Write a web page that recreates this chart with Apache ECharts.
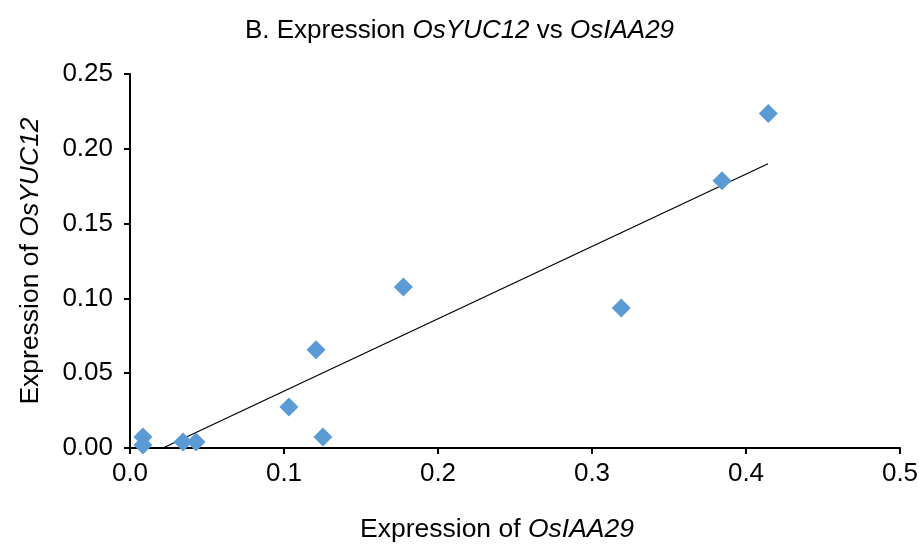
<!DOCTYPE html>
<html>
<head>
<meta charset="utf-8">
<script src="https://cdn.jsdelivr.net/npm/echarts@6/dist/echarts.min.js"></script>
<style>
  html, body { margin: 0; padding: 0; background: #fff; }
  #chart { width: 919px; height: 544px; }
</style>
</head>
<body>
<div id="chart"></div>
<script>
// Expression of OsIAA29 (x) vs OsYUC12 (y)
const iaa29 = [0.0084, 0.0084, 0.0344, 0.0429, 0.1032, 0.1253, 0.1208, 0.1775, 0.319, 0.3844, 0.4145];
const yuc12 = [0.0020, 0.0074, 0.0040, 0.0040, 0.0274, 0.0074, 0.0656, 0.1076, 0.0935, 0.1787, 0.2236];

// linear trendline end points (visible part)
const trendX = [0.0214, 0.4143];
const trendY = [0.0, 0.190];

const xTicks = [0, 0.1, 0.2, 0.3, 0.4, 0.5];
const yTicks = [0, 0.05, 0.10, 0.15, 0.20, 0.25];

const font = 'Arial, "Liberation Sans", sans-serif';

const points = iaa29.map((x, i) => [x, yuc12[i]]);
const trend = trendX.map((x, i) => [x, trendY[i]]);

const chart = echarts.init(document.getElementById('chart'));

chart.setOption({
  backgroundColor: '#fff',
  animation: false,
  title: {
    text: 'B. Expression {i|OsYUC12} vs {i|OsIAA29}',
    left: 'center',
    top: 13,
    textStyle: {
      fontFamily: font,
      fontSize: 26,
      fontWeight: 'normal',
      color: '#000',
      rich: {
        i: { fontFamily: font, fontSize: 26, fontStyle: 'italic', color: '#000' }
      }
    }
  },
  grid: { left: 130, right: 19, top: 74, bottom: 96, outerBoundsMode: 'none' },
  xAxis: {
    type: 'value',
    min: 0,
    max: 0.5,
    interval: 0.1,
    name: 'Expression of {i|OsIAA29}',
    nameLocation: 'middle',
    nameGap: 68,
    nameTextStyle: {
      fontFamily: font,
      fontSize: 26.5,
      color: '#000',
      padding: [0, 36, 0, 0],
      rich: { i: { fontFamily: font, fontSize: 26.5, fontStyle: 'italic', color: '#000' } }
    },
    axisLine: { show: true, onZero: false, lineStyle: { color: '#000', width: 2 } },
    axisTick: { show: true, length: 6, lineStyle: { color: '#000', width: 2 } },
    axisLabel: {
      fontFamily: font,
      fontSize: 26,
      color: '#000',
      margin: 13,
      formatter: v => xTicks.includes(+v.toFixed(2)) ? v.toFixed(1) : ''
    },
    splitLine: { show: false }
  },
  yAxis: {
    type: 'value',
    min: 0,
    max: 0.25,
    interval: 0.05,
    name: 'Expression of {i|OsYUC12}',
    nameLocation: 'middle',
    nameGap: 86,
    nameTextStyle: {
      fontFamily: font,
      fontSize: 26.5,
      color: '#000',
      rich: { i: { fontFamily: font, fontSize: 26.5, fontStyle: 'italic', color: '#000' } }
    },
    axisLine: { show: true, onZero: false, lineStyle: { color: '#000', width: 2 } },
    axisTick: { show: true, length: 6, lineStyle: { color: '#000', width: 2 } },
    axisLabel: {
      fontFamily: font,
      fontSize: 26,
      color: '#000',
      margin: 17,
      formatter: v => yTicks.includes(+v.toFixed(2)) ? v.toFixed(2) : ''
    },
    splitLine: { show: false }
  },
  series: [
    {
      type: 'line',
      data: trend,
      symbol: 'none',
      silent: true,
      lineStyle: { color: '#000', width: 1.3 },
      z: 1
    },
    {
      type: 'scatter',
      data: points,
      symbol: 'diamond',
      symbolSize: 19,
      itemStyle: { color: '#5B9BD5', opacity: 1 },
      z: 2
    }
  ]
});
</script>
</body>
</html>
